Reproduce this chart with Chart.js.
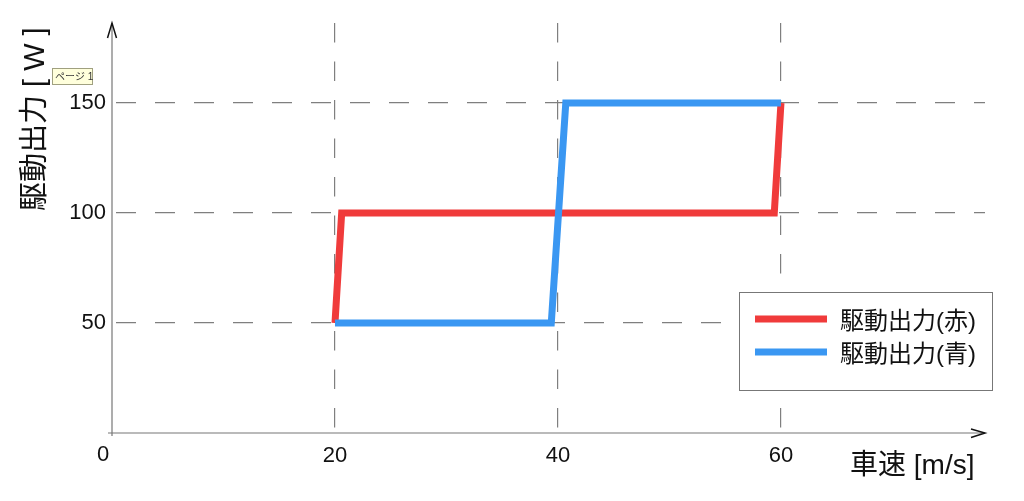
<!DOCTYPE html>
<html><head><meta charset="utf-8">
<script src="https://cdn.jsdelivr.net/npm/chart.js@4"></script>
<style>html,body{margin:0;padding:0;background:#fff}canvas{display:block}</style>
</head><body>
<canvas id="c" width="1024" height="501"></canvas>
<script>
// ---- data ----
const seriesNames = ['駆動出力(赤)', '駆動出力(青)'];
const redSpeed = [20, 20.6, 59.4, 60];
const redPower = [50, 100, 100, 150];
const blueSpeed = [20, 39.4, 40.7, 60];
const bluePower = [50, 50, 150, 150];
const xTickValues = [0, 20, 40, 60];
const yTickValues = [50, 100, 150];
const xAxisMax = 78.3;
const yAxisMax = 186.4;
const xTitle = '車速 [m/s]';
const yTitle = '駆動出力 [ W ]';
const pageNote = 'ページ 1';

const redColor = '#F03B3B';
const blueColor = '#3A97F2';
const gridColor = '#7f7f7f';
const FONT = "'Liberation Sans', Arial, 'Noto Sans CJK JP', sans-serif";
Chart.defaults.font.family = FONT;

const toPts = (xs, ys) => xs.map((x, i) => ({x: x, y: ys[i]}));

const decor = {
  id: 'decor',
  beforeDatasetsDraw(chart) {
    const ctx = chart.ctx, xs = chart.scales.x, ys = chart.scales.y;
    const ox = xs.getPixelForValue(0), oy = ys.getPixelForValue(0);
    const xe = xs.getPixelForValue(xAxisMax), ye = ys.getPixelForValue(yAxisMax);
    ctx.save();
    ctx.strokeStyle = '#777';
    ctx.lineWidth = 1.2;
    ctx.beginPath();
    ctx.moveTo(ox, ye); ctx.lineTo(ox, oy + 3);
    ctx.moveTo(ox - 4, oy); ctx.lineTo(xe, oy);
    ctx.stroke();
    ctx.strokeStyle = '#111';
    ctx.lineWidth = 1.5;
    ctx.beginPath();
    ctx.moveTo(ox - 4.5, ye + 15); ctx.lineTo(ox, ye); ctx.lineTo(ox + 4.5, ye + 15);
    ctx.moveTo(xe - 14, oy - 4); ctx.lineTo(xe, oy); ctx.lineTo(xe - 14, oy + 4.5);
    ctx.stroke();
    ctx.restore();
  },
  afterDraw(chart) {
    const ctx = chart.ctx, xs = chart.scales.x, ys = chart.scales.y;
    const ox = xs.getPixelForValue(0), oy = ys.getPixelForValue(0);
    ctx.save();
    // origin label
    ctx.fillStyle = '#111';
    ctx.font = '22px ' + FONT;
    ctx.textAlign = 'center';
    ctx.textBaseline = 'middle';
    ctx.fillText('0', ox - 9, oy + 22);
    // x title
    ctx.font = '28px ' + FONT;
    ctx.textAlign = 'left';
    ctx.fillText(xTitle, 850, 466);
    // y title
    ctx.save();
    ctx.translate(36, 211);
    ctx.rotate(-Math.PI / 2);
    ctx.font = '29px ' + FONT;
    ctx.textAlign = 'left';
    ctx.textBaseline = 'middle';
    ctx.fillText(yTitle, 0, 0);
    ctx.restore();
    // page note
    ctx.fillStyle = '#ffffdc';
    ctx.strokeStyle = '#a0a080';
    ctx.lineWidth = 1;
    ctx.fillRect(52.5, 68.5, 40, 16);
    ctx.strokeRect(52.5, 68.5, 40, 16);
    ctx.fillStyle = '#333';
    ctx.font = '10px ' + FONT;
    ctx.textAlign = 'left';
    ctx.fillText(pageNote, 55, 77);
    // legend
    ctx.fillStyle = '#fff';
    ctx.fillRect(739.5, 292.5, 253, 98);
    ctx.strokeStyle = '#777';
    ctx.strokeRect(739.5, 292.5, 253, 98);
    chart.data.datasets.forEach((ds, i) => {
      const y = 319 + i * 33;
      ctx.strokeStyle = ds.borderColor;
      ctx.lineWidth = 7;
      ctx.beginPath();
      ctx.moveTo(755, y); ctx.lineTo(827, y);
      ctx.stroke();
      ctx.fillStyle = '#111';
      ctx.font = '24px ' + FONT;
      ctx.textBaseline = 'middle';
      ctx.fillText(ds.label, 840, y + 3);
    });
    ctx.restore();
  }
};

new Chart(document.getElementById('c'), {
  type: 'scatter',
  data: {
    datasets: [
      {label: seriesNames[0], data: toPts(redSpeed, redPower), borderColor: redColor, backgroundColor: redColor,
       showLine: true, borderWidth: 7, pointRadius: 0, tension: 0, order: 1, borderJoinStyle: 'miter'},
      {label: seriesNames[1], data: toPts(blueSpeed, bluePower), borderColor: blueColor, backgroundColor: blueColor,
       showLine: true, borderWidth: 7, pointRadius: 0, tension: 0, order: 0, borderJoinStyle: 'miter'}
    ]
  },
  options: {
    responsive: false,
    animation: false,
    devicePixelRatio: 1,
    layout: {padding: {top: 23, right: 39, left: 0, bottom: 0}},
    plugins: {legend: {display: false}, tooltip: {enabled: false}},
    scales: {
      x: {
        type: 'linear', min: 0, max: xAxisMax,
        afterBuildTicks: s => { s.ticks = xTickValues.map(v => ({value: v})); },
        afterFit: s => { s.height = 68; },
        ticks: {padding: 10, color: '#111', font: {size: 22}, callback: v => v === 0 ? '' : String(v), maxRotation: 0, autoSkip: false},
        grid: {drawTicks: false, lineWidth: 1.2, color: c => (c.tick && c.tick.value === 0) ? 'rgba(0,0,0,0)' : gridColor},
        border: {display: false, dash: [19.5, 19], dashOffset: 0}
      },
      y: {
        type: 'linear', min: 0, max: yAxisMax,
        afterBuildTicks: s => { s.ticks = yTickValues.map(v => ({value: v})); },
        afterFit: s => { s.width = 112; },
        ticks: {padding: 6, color: '#111', font: {size: 22}},
        grid: {drawTicks: false, lineWidth: 1.2, color: gridColor},
        border: {display: false, dash: [20, 19], dashOffset: 35}
      }
    }
  },
  plugins: [decor]
});
</script>
</body></html>
